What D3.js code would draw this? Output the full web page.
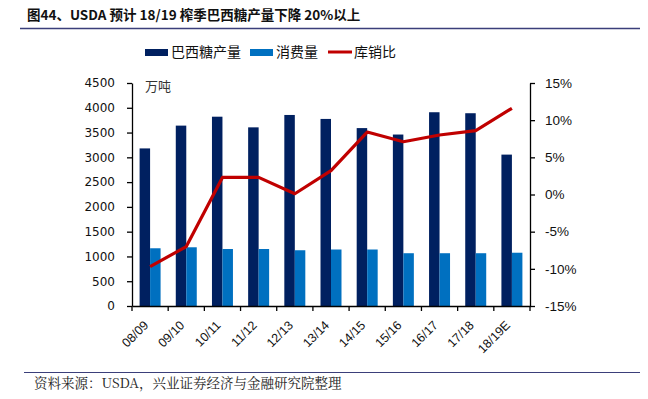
<!DOCTYPE html>
<html>
<head>
<meta charset="utf-8">
<script src="https://cdn.jsdelivr.net/npm/d3@7"></script>
<style>
  html, body { margin: 0; padding: 0; background: #fff; }
  svg { display: block; }
  text { font-family: "Liberation Sans", "Noto Sans CJK SC", sans-serif; }
</style>
</head>
<body>
<svg id="chart" width="648" height="399"></svg>
<script>
const seasons = ["08/09", "09/10", "10/11", "11/12", "12/13", "13/14", "14/15", "15/16", "16/17", "17/18", "18/19E"];
const production = [3180, 3640, 3820, 3605, 3855, 3775, 3590, 3460, 3910, 3890, 3055];
const consumption = [1165, 1185, 1150, 1150, 1125, 1140, 1140, 1065, 1065, 1065, 1075];
const stockRatio = [-9.7, -7.0, 2.3, 2.3, 0.1, 3.2, 8.4, 7.1, 8.0, 8.6, 11.6];
const leftTicks = [0, 500, 1000, 1500, 2000, 2500, 3000, 3500, 4000, 4500];
const rightTicks = [-15, -10, -5, 0, 5, 10, 15];

const C_PROD = "#002060", C_CONS = "#0070C0", C_LINE = "#C00000";

const svg = d3.select("#chart");
const margin = { left: 132, right: 118, top: 83, bottom: 93 };
const W = 648, H = 399;
const innerW = W - margin.left - margin.right;
const innerH = H - margin.top - margin.bottom;

// header
svg.append("text")
  .attr("x", 27).attr("y", 20)
  .style("font-family", "'Noto Sans CJK SC', sans-serif")
  .style("font-weight", "bold").style("font-size", "13.5px").attr("fill", "#111")
  .text("图44、USDA 预计 18/19 榨季巴西糖产量下降 20%以上");
svg.append("line").attr("x1", 20).attr("x2", 640).attr("y1", 28.5).attr("y2", 28.5)
  .attr("stroke", "#3b3f7a").attr("stroke-width", 1.5);

// footer
svg.append("line").attr("x1", 24).attr("x2", 640).attr("y1", 372.5).attr("y2", 372.5)
  .attr("stroke", "#3b3f7a").attr("stroke-width", 1.2);
svg.append("text")
  .attr("x", 34).attr("y", 388)
  .style("font-family", "'Noto Serif CJK SC', 'Liberation Serif', 'Noto Sans CJK SC', serif")
  .style("font-size", "13.5px").attr("fill", "#222")
  .text("资料来源：USDA，兴业证券经济与金融研究院整理");

const g = svg.append("g").attr("transform", `translate(${margin.left},${margin.top})`);

const x = d3.scaleBand().domain(seasons).range([0, innerW]).paddingInner(0).paddingOuter(0);
const x1 = d3.scaleBand().domain(["p", "c"]).range([x.bandwidth() * 0.21, x.bandwidth() * 0.79]);
const yL = d3.scaleLinear().domain([0, 4500]).range([innerH, 0]);
const yR = d3.scaleLinear().domain([-15, 15]).range([innerH, 0]);

// bars
const grp = g.selectAll("g.season").data(seasons).enter().append("g")
  .attr("transform", d => `translate(${x(d)},0)`);
grp.append("rect")
  .attr("x", x1("p")).attr("width", x1.bandwidth())
  .attr("y", (d, i) => yL(production[i]))
  .attr("height", (d, i) => innerH - yL(production[i]))
  .attr("fill", C_PROD);
grp.append("rect")
  .attr("x", x1("c")).attr("width", x1.bandwidth())
  .attr("y", (d, i) => yL(consumption[i]))
  .attr("height", (d, i) => innerH - yL(consumption[i]))
  .attr("fill", C_CONS);

// line
const line = d3.line()
  .x((d, i) => x(seasons[i]) + x.bandwidth() / 2)
  .y(d => yR(d));
g.append("path").datum(stockRatio)
  .attr("fill", "none").attr("stroke", C_LINE).attr("stroke-width", 3.2)
  .attr("stroke-linejoin", "round")
  .attr("d", line);

// axes
const axisStyle = sel => {
  sel.select(".domain").attr("stroke", "#000").attr("stroke-width", 1.3);
  sel.selectAll(".tick line").attr("stroke", "#000").attr("stroke-width", 1.3);
  sel.selectAll(".tick text").attr("fill", "#111").style("font-size", "13px");
};

g.append("g")
  .call(d3.axisLeft(yL).tickValues(leftTicks).tickFormat(d3.format("d"))
    .tickSize(5).tickSizeOuter(0).tickPadding(12))
  .call(axisStyle)
  .call(s => s.selectAll(".tick text").style("font-family", "'DejaVu Sans', sans-serif").style("font-size", "12px"));

g.append("g").attr("transform", `translate(${innerW},0)`)
  .call(d3.axisRight(yR).tickValues(rightTicks).tickSize(5).tickSizeOuter(0).tickPadding(10)
    .tickFormat(d => d + "%"))
  .call(axisStyle)
  .call(s => s.selectAll(".tick text").style("font-size", "13.5px"));

const bottom = g.append("g").attr("transform", `translate(0,${innerH})`)
  .call(d3.axisBottom(x).tickSize(0).tickSizeOuter(0))
  .call(axisStyle);
bottom.selectAll(".tick text")
  .attr("text-anchor", "end")
  .attr("dy", 0).attr("dx", 0).attr("y", 0)
  .style("font-size", "12.5px")
  .attr("transform", "translate(-1,20) rotate(-45)");
// boundary ticks between seasons
bottom.selectAll("line.sep").data(d3.range(seasons.length + 1)).enter().append("line")
  .attr("class", "sep")
  .attr("x1", i => i * x.bandwidth()).attr("x2", i => i * x.bandwidth())
  .attr("y1", 0).attr("y2", 5)
  .attr("stroke", "#000").attr("stroke-width", 1.3);

// unit label
g.append("text").attr("x", 13).attr("y", 8)
  .style("font-family", "'Noto Sans CJK SC', sans-serif")
  .style("font-size", "13px").attr("fill", "#333").text("万吨");

// legend
const legend = svg.append("g").attr("transform", "translate(0,52)");
const items = [
  { label: "巴西糖产量", color: C_PROD, type: "rect", x: 145 },
  { label: "消费量", color: C_CONS, type: "rect", x: 250 },
  { label: "库销比", color: C_LINE, type: "line", x: 328 }
];
items.forEach(it => {
  if (it.type === "rect") {
    legend.append("rect").attr("x", it.x).attr("y", -3).attr("width", 23).attr("height", 7).attr("fill", it.color);
  } else {
    legend.append("line").attr("x1", it.x).attr("x2", it.x + 24).attr("y1", 0).attr("y2", 0)
      .attr("stroke", it.color).attr("stroke-width", 3);
  }
  legend.append("text").attr("x", it.x + 26).attr("y", 5)
    .style("font-family", "'Noto Sans CJK SC', sans-serif")
    .style("font-size", "14px").attr("fill", "#111").text(it.label);
});
</script>
</body>
</html>
